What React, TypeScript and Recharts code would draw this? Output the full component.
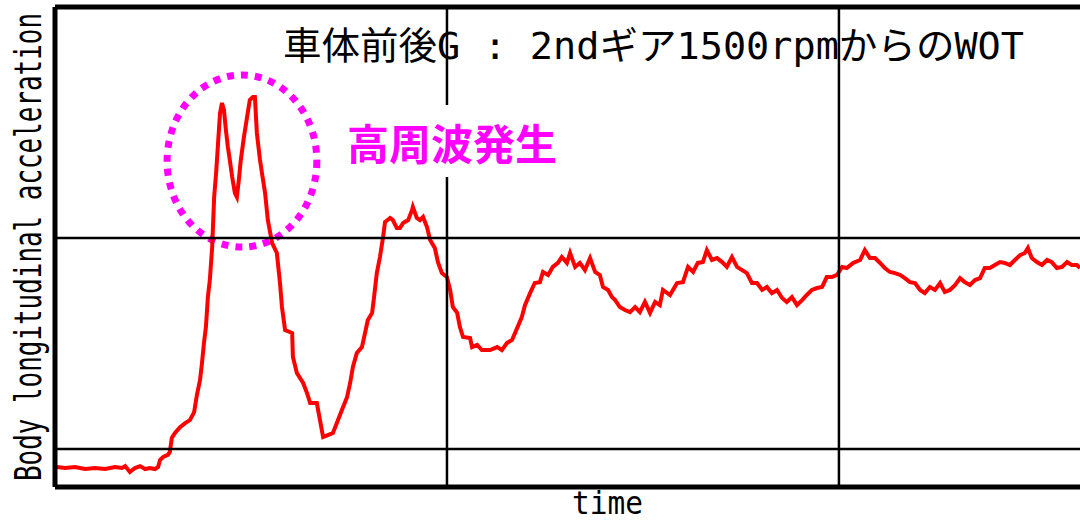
import { Line, LineChart, ReferenceArea, ReferenceLine, XAxis, YAxis } from 'recharts'

// time [s] and body longitudinal acceleration (arbitrary units, grid at 0 and 1)
const time = [
  0.005, 0.026, 0.051, 0.077, 0.102, 0.128, 0.153, 0.171, 0.179, 0.191, 0.204, 0.217, 0.23, 0.242, 0.255,
  0.263, 0.268, 0.276, 0.288, 0.293, 0.298, 0.306, 0.319, 0.332, 0.344, 0.355, 0.362, 0.37, 0.375, 0.38,
  0.385, 0.39, 0.395, 0.401, 0.406, 0.411, 0.416, 0.421, 0.426, 0.431, 0.436, 0.441, 0.446, 0.452, 0.459,
  0.464, 0.469, 0.474, 0.482, 0.49, 0.497, 0.505, 0.51, 0.515, 0.523, 0.528, 0.536, 0.543, 0.554, 0.566,
  0.574, 0.579, 0.587, 0.605, 0.607, 0.617, 0.633, 0.643, 0.651, 0.668, 0.676, 0.684, 0.696, 0.709, 0.719,
  0.732, 0.745, 0.753, 0.76, 0.77, 0.783, 0.791, 0.798, 0.809, 0.814, 0.821, 0.829, 0.837, 0.842, 0.855,
  0.862, 0.872, 0.88, 0.888, 0.901, 0.911, 0.913, 0.923, 0.931, 0.939, 0.949, 0.957, 0.969, 0.977, 0.987,
  1.0, 1.008, 1.015, 1.026, 1.033, 1.041, 1.059, 1.064, 1.077, 1.089, 1.11, 1.128, 1.14, 1.153, 1.166,
  1.179, 1.191, 1.199, 1.212, 1.224, 1.237, 1.245, 1.258, 1.27, 1.283, 1.293, 1.306, 1.314, 1.327, 1.339,
  1.352, 1.365, 1.378, 1.39, 1.398, 1.411, 1.421, 1.429, 1.441, 1.454, 1.467, 1.48, 1.492, 1.505, 1.518,
  1.531, 1.543, 1.551, 1.569, 1.587, 1.602, 1.615, 1.628, 1.64, 1.653, 1.663, 1.676, 1.689, 1.702, 1.714,
  1.727, 1.74, 1.753, 1.765, 1.778, 1.791, 1.804, 1.816, 1.829, 1.842, 1.855, 1.867, 1.88, 1.893, 1.906,
  1.918, 1.931, 1.944, 1.957, 1.969, 1.982, 1.995, 2.008, 2.02, 2.036, 2.054, 2.066, 2.079, 2.092, 2.105,
  2.117, 2.13, 2.143, 2.156, 2.168, 2.181, 2.194, 2.207, 2.219, 2.232, 2.245, 2.258, 2.27, 2.283, 2.296,
  2.309, 2.321, 2.334, 2.347, 2.36, 2.372, 2.385, 2.398, 2.411, 2.423, 2.436, 2.449, 2.462, 2.474, 2.482,
  2.492, 2.505, 2.518, 2.531, 2.543, 2.556, 2.569, 2.582, 2.594, 2.607, 2.615
]
const accel = [
  -0.085, -0.09, -0.085, -0.095, -0.09, -0.095, -0.085, -0.09, -0.081, -0.109, -0.09, -0.081, -0.095, -0.09, -0.095,
  -0.085, -0.052, -0.038, -0.028, -0.014, 0.052, 0.076, 0.104, 0.123, 0.137, 0.175, 0.256, 0.327, 0.408, 0.502,
  0.578, 0.72, 0.801, 0.957, 1.194, 1.308, 1.45, 1.592, 1.64, 1.607, 1.512, 1.431, 1.37, 1.289, 1.213,
  1.194, 1.275, 1.37, 1.479, 1.573, 1.654, 1.668, 1.668, 1.498, 1.37, 1.308, 1.213, 1.085, 0.976, 0.929,
  0.787, 0.673, 0.564, 0.55, 0.436, 0.36, 0.313, 0.265, 0.218, 0.218, 0.137, 0.057, 0.066, 0.076, 0.123,
  0.185, 0.246, 0.313, 0.389, 0.455, 0.483, 0.55, 0.611, 0.645, 0.72, 0.834, 0.91, 1.005, 1.076, 1.095,
  1.085, 1.047, 1.047, 1.071, 1.085, 1.133, 1.147, 1.095, 1.085, 1.1, 1.052, 0.991, 0.953, 0.886, 0.834,
  0.815, 0.754, 0.673, 0.645, 0.578, 0.531, 0.526, 0.483, 0.493, 0.469, 0.469, 0.483, 0.469, 0.502, 0.517,
  0.573, 0.626, 0.682, 0.739, 0.787, 0.791, 0.839, 0.825, 0.863, 0.882, 0.91, 0.882, 0.929, 0.863, 0.882,
  0.848, 0.905, 0.839, 0.825, 0.768, 0.754, 0.72, 0.706, 0.673, 0.659, 0.649, 0.673, 0.649, 0.697, 0.645,
  0.697, 0.682, 0.754, 0.73, 0.787, 0.791, 0.863, 0.839, 0.882, 0.886, 0.943, 0.896, 0.905, 0.886, 0.863,
  0.91, 0.863, 0.848, 0.834, 0.787, 0.787, 0.754, 0.768, 0.739, 0.754, 0.716, 0.697, 0.72, 0.682, 0.706,
  0.73, 0.754, 0.763, 0.768, 0.815, 0.815, 0.825, 0.863, 0.858, 0.882, 0.896, 0.943, 0.905, 0.905, 0.882,
  0.858, 0.839, 0.834, 0.825, 0.81, 0.791, 0.787, 0.754, 0.739, 0.768, 0.754, 0.787, 0.744, 0.754, 0.777,
  0.81, 0.791, 0.777, 0.801, 0.81, 0.858, 0.858, 0.872, 0.886, 0.882, 0.872, 0.896, 0.919, 0.929, 0.953,
  0.905, 0.886, 0.872, 0.896, 0.886, 0.858, 0.863, 0.886, 0.872, 0.872, 0.858
]
const gridTimes = [1, 2]
const gridAccel = [0, 1]

const title = '車体前後G : 2ndギア1500rpmからのWOT'
const note = '高周波発生'
const yLabel = 'Body longitudinal acceleration'
const xLabel = 'time'

const data = time.map((t, i) => ({ t, g: accel[i] }))

const T_MAX = 2.615
const G_MIN = -0.18
const G_MAX = 2.095

const mono = "'DejaVu Sans Mono', 'Noto Sans CJK JP', monospace"

const DottedEllipse = (props: any) => {
  const { x, y, width, height } = props
  return (
    <ellipse
      cx={x + width / 2}
      cy={y + height / 2}
      rx={width / 2}
      ry={height / 2}
      fill="none"
      stroke="#ff00ff"
      strokeWidth={7}
      strokeDasharray="7 7"
    />
  )
}

export default function App() {
  return (
    <div style={{ position: 'absolute', left: 0, top: 0, width: 1080, height: 522, background: '#fff' }}>
      <LineChart width={1080} height={522} data={data} margin={{ top: 7, right: 0, bottom: 35, left: 55 }}>
        <XAxis dataKey="t" type="number" domain={[0, T_MAX]} hide />
        <YAxis type="number" domain={[G_MIN, G_MAX]} hide />
        <Line
          dataKey="g"
          type="linear"
          stroke="#ff0000"
          strokeWidth={4}
          dot={false}
          isAnimationActive={false}
        />
        {gridTimes.map((v) => (
          <ReferenceLine key={'x' + v} x={v} stroke="#000" strokeWidth={2.5} />
        ))}
        {gridAccel.map((v) => (
          <ReferenceLine key={'y' + v} y={v} stroke="#000" strokeWidth={2.5} />
        ))}
        <ReferenceLine x={0} stroke="#000" strokeWidth={5} />
        <ReferenceLine y={G_MIN} stroke="#000" strokeWidth={5} />
        <ReferenceLine y={G_MAX} stroke="#000" strokeWidth={5} />
        <ReferenceArea x1={0.286} x2={0.668} y1={0.957} y2={1.773} shape={(p: any) => <DottedEllipse {...p} />} />
      </LineChart>
      <svg width={1080} height={522} style={{ position: 'absolute', left: 0, top: 0, pointerEvents: 'none' }}>
        <rect x={338} y={105} width={228} height={72} fill="#fff" />
        <text x={347} y={160} fontSize={42} fontWeight={700} fill="#ff00ff" fontFamily="'Noto Sans CJK JP', sans-serif" textLength={210}>
          {note}
        </text>
        <text
          x={283}
          y={59}
          fontSize={38}
          fill="#000"
          fontFamily={mono}
          textLength={741}
          lengthAdjust="spacingAndGlyphs"
        >
          {title}
        </text>
        <text
          x={0}
          y={0}
          transform="translate(41, 247) rotate(-90) scale(0.682, 1)"
          textAnchor="middle"
          fontSize={38}
          fill="#000"
          fontFamily={mono}
        >
          {yLabel}
        </text>
        <text x={572} y={514} fontSize={32} fill="#000" fontFamily={mono} textLength={71} lengthAdjust="spacingAndGlyphs">
          {xLabel}
        </text>
      </svg>
    </div>
  )
}
